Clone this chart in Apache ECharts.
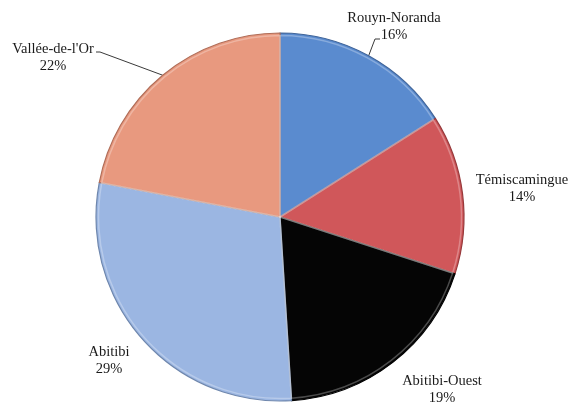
<!DOCTYPE html>
<html>
<head>
<meta charset="utf-8">
<script src="https://cdn.jsdelivr.net/npm/echarts@6/dist/echarts.min.js"></script>
<style>
  html, body { margin: 0; padding: 0; background: #ffffff; }
  #chart { width: 577px; height: 404px; }
</style>
</head>
<body>
<div id="chart"></div>
<script>
// Regions and their share (%) of the total
const regions = ['Rouyn-Noranda', 'Témiscamingue', 'Abitibi-Ouest', 'Abitibi', "Vallée-de-l'Or"];
const shares = [16, 14, 19, 29, 22];

// Slice fills and their darker rims
const fills = ['#5a8bcf', '#d0575a', '#050505', '#9bb6e2', '#e8997f'];
const rims = ['#3f6499', '#97393b', '#000000', '#6f87ad', '#b06d58'];

// Where each label block sits, relative to the pie centre
const CX = 280, CY = 217, R = 184;
const labelOffsets = [
  [114, -190.5],
  [242, -28.5],
  [162, 172.5],
  [-171, 143.5],
  [-227, -159.5]
];

const chart = echarts.init(document.getElementById('chart'), null, { renderer: 'canvas' });

const sliceData = regions.map((name, i) => ({
  name: name,
  value: shares[i],
  itemStyle: { color: fills[i], borderColor: rims[i] }
}));

chart.setOption({
  animation: false,
  backgroundColor: '#ffffff',
  series: [
    {
      type: 'pie',
      center: [CX, CY],
      radius: R,
      startAngle: 90,
      clockwise: true,
      data: sliceData,
      itemStyle: { borderWidth: 1.2 },
      label: {
        show: true,
        position: 'outside',
        formatter: '{b}\n{d}%',
        fontFamily: '"Liberation Serif", "Times New Roman", serif',
        fontSize: 14.5,
        lineHeight: 17,
        color: '#1a1a1a',
        align: 'center',
        overflow: 'none'
      },
      labelLine: {
        show: true,
        lineStyle: { color: '#3a3a3a', width: 1 }
      },
      labelLayout: function (p) {
        const off = labelOffsets[p.dataIndex];
        const x = CX + off[0], y = CY + off[1];
        const res = { x: x, y: y, align: 'center', verticalAlign: 'middle' };
        const edge = p.labelLinePoints ? p.labelLinePoints[0] : null;
        if (p.dataIndex === 0 && edge) {
          res.labelLinePoints = [edge, [x - 19, y + 12.5], [x - 14, y + 12.5]];
        } else if (p.dataIndex === 4 && edge) {
          res.labelLinePoints = [edge, [x + 47, y - 5.5], [x + 43, y - 5.5]];
        } else {
          res.labelLinePoints = edge ? [edge, edge, edge] : undefined;
        }
        return res;
      },
      emphasis: { disabled: true }
    },
    {
      // soft inner highlight along each slice edge
      type: 'pie',
      center: [CX, CY],
      radius: R - 2.5,
      startAngle: 90,
      clockwise: true,
      silent: true,
      data: regions.map((name, i) => ({ name: name, value: shares[i] })),
      itemStyle: {
        color: 'rgba(0,0,0,0)',
        borderColor: 'rgba(255,255,255,0.28)',
        borderWidth: 1.5
      },
      label: { show: false },
      labelLine: { show: false },
      emphasis: { disabled: true }
    }
  ]
});
</script>
</body>
</html>
